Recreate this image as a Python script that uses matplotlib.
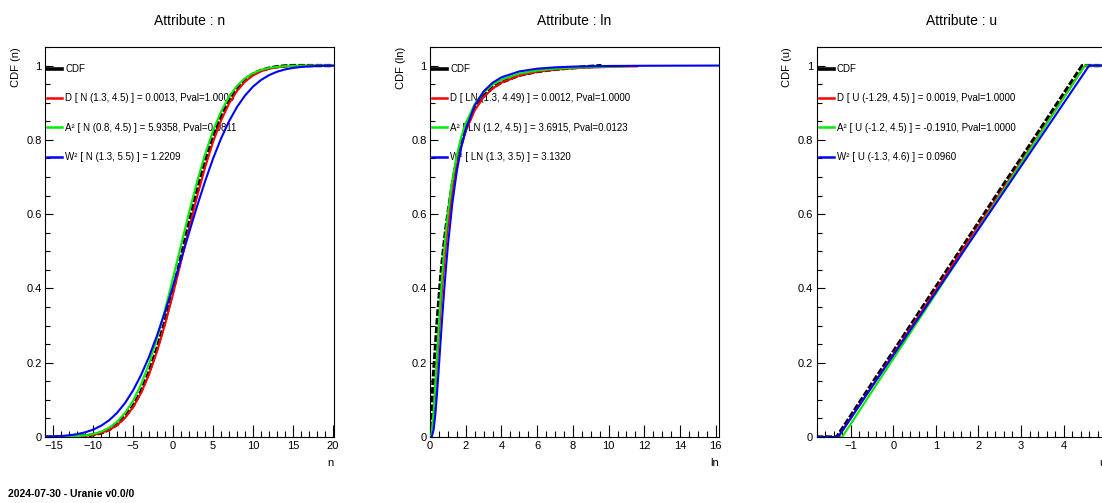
import matplotlib
matplotlib.use("Agg")
import matplotlib.pyplot as plt
from matplotlib.ticker import MultipleLocator

plt.rcParams['font.family'] = ['Liberation Sans', 'DejaVu Sans']

# ---------------- attribute n (normal fits) ----------------
n_x = [-16, -15, -14, -13, -12, -11, -10, -9, -8, -7, -6, -5, -4, -3, -2, -1, 0,
       1, 2, 3, 4, 5, 6, 7, 8, 9, 10, 11, 12, 13, 14, 15, 16, 17, 18, 19, 20]
n_cdf = [0.0, 0.0, 0.0, 0.001, 0.002, 0.003, 0.006, 0.011, 0.020, 0.034, 0.055, 0.084,
         0.124, 0.176, 0.240, 0.313, 0.396, 0.486, 0.577, 0.664, 0.743, 0.811, 0.866,
         0.909, 0.940, 0.962, 0.977, 0.987, 0.993, 0.997, 0.999, 1.0, 1.0, 1.0, 1.0, 1.0, 1.0]
n_d = [0.0001, 0.0001, 0.0003, 0.0007, 0.0015, 0.0032, 0.0060, 0.0110, 0.0193, 0.0326,
       0.0524, 0.0808, 0.1194, 0.1696, 0.2317, 0.3047, 0.3863, 0.4734, 0.5619, 0.6473,
       0.7257, 0.7945, 0.8518, 0.8974, 0.9317, 0.9565, 0.9734, 0.9845, 0.9913, 0.9953,
       0.9976, 0.9988, 0.9995, 0.9998, 0.9999, 1.0, 1.0]
n_a2 = [0.0001, 0.0002, 0.0005, 0.0011, 0.0023, 0.0044, 0.0082, 0.0146, 0.0252, 0.0415,
        0.0655, 0.0985, 0.1430, 0.1993, 0.2669, 0.3446, 0.4295, 0.5177, 0.6052, 0.6876,
        0.7615, 0.8247, 0.8761, 0.9159, 0.9452, 0.9658, 0.9795, 0.9883, 0.9936, 0.9966,
        0.9983, 0.9992, 0.9996, 0.9998, 1.0, 1.0, 1.0]
n_w2 = [0.0008, 0.0015, 0.0027, 0.0047, 0.0078, 0.0127, 0.0199, 0.0305, 0.0454, 0.0656,
        0.0922, 0.1261, 0.1676, 0.2171, 0.2743, 0.3380, 0.4067, 0.4783, 0.5506, 0.6214,
        0.6883, 0.7495, 0.8036, 0.8500, 0.8884, 0.9192, 0.9432, 0.9611, 0.9741, 0.9833,
        0.9895, 0.9936, 0.9962, 0.9978, 0.9988, 0.9994, 0.9997]
n_labels = ["CDF",
            "D [ N (1.3, 4.5) ] = 0.0013, Pval=1.0000",
            "A\u00b2 [ N (0.8, 4.5) ] = 5.9358, Pval=0.0811",
            "W\u00b2 [ N (1.3, 5.5) ] = 1.2209"]

# ---------------- attribute ln (lognormal fits) ----------------
ln_x = [0, 0.05, 0.1, 0.2, 0.3, 0.4, 0.5, 0.6, 0.7, 0.8, 0.9, 1.0, 1.25, 1.5, 1.75,
        2, 2.5, 3, 3.5, 4, 5, 6, 7, 8]
ln_cdf_x = ln_x + [9.6]
ln_cdf = [0.0, 0.03, 0.08, 0.17, 0.24, 0.31, 0.37, 0.43, 0.48, 0.525, 0.565, 0.60,
          0.68, 0.745, 0.79, 0.83, 0.885, 0.918, 0.94, 0.955, 0.974, 0.984, 0.99, 0.994, 1.0]
ln_d_x = ln_x + [10, 11.6]
ln_d = [0.0, 0.0009, 0.0093, 0.0555, 0.1251, 0.2019, 0.2776, 0.3479, 0.412, 0.4699,
        0.5214, 0.5670, 0.6602, 0.7298, 0.783, 0.8233, 0.8794, 0.9150, 0.9383, 0.9542,
        0.9733, 0.9835, 0.9893, 0.9928, 0.9964, 0.998]
ln_a2_x = ln_x + [10, 11.0]
ln_a2 = [0.0, 0.0013, 0.0119, 0.0666, 0.1448, 0.2284, 0.3085, 0.3817, 0.447, 0.5055,
         0.557, 0.6018, 0.6922, 0.7584, 0.808, 0.8452, 0.8962, 0.9279, 0.9483, 0.9620,
         0.9782, 0.9867, 0.9915, 0.9943, 0.9972, 0.998]
ln_w2_x = ln_x + [10, 12, 16.2]
ln_w2 = [0.0, 0.0001, 0.0014, 0.0189, 0.0612, 0.1218, 0.1911, 0.2630, 0.333, 0.3986,
         0.4597, 0.5144, 0.6291, 0.7151, 0.780, 0.8280, 0.8923, 0.9304, 0.9537, 0.9683,
         0.9842, 0.9916, 0.9952, 0.9972, 0.9989, 0.9995, 1.0]
ln_labels = ["CDF",
             "D [ LN (1.3, 4.49) ] = 0.0012, Pval=1.0000",
             "A\u00b2 [ LN (1.2, 4.5) ] = 3.6915, Pval=0.0123",
             "W\u00b2 [ LN (1.3, 3.5) ] = 3.1320"]

# ---------------- attribute u (uniform fits) ----------------
u_cdf_x = [-1.8, -1.33, -1.0, -0.5, 0.0, 0.5, 1.0, 1.5, 2.0, 2.5, 3.0, 3.5, 4.0, 4.44, 5.0]
u_cdf = [0.0, 0.0, 0.057, 0.144, 0.230, 0.317, 0.404, 0.490, 0.577, 0.664, 0.750,
         0.837, 0.924, 1.0, 1.0]
u_d_x = [-1.8, -1.29, 4.5, 5.0]
u_d = [0.0, 0.0, 1.0, 1.0]
u_a2_x = [-1.8, -1.2, 4.5, 5.0]
u_a2 = [0.0, 0.0, 1.0, 1.0]
u_w2_x = [-1.8, -1.3, 4.6, 5.0]
u_w2 = [0.0, 0.0, 1.0, 1.0]
u_labels = ["CDF",
            "D [ U (-1.29, 4.5) ] = 0.0019, Pval=1.0000",
            "A\u00b2 [ U (-1.2, 4.5) ] = -0.1910, Pval=1.0000",
            "W\u00b2 [ U (-1.3, 4.6) ] = 0.0960"]

W, H = 1102, 503
fig = plt.figure(figsize=(W / 100, H / 100), dpi=100)

def panel(left, name, xlim, major, minor, curves, labels):
    ax = fig.add_axes([left / W, 66 / H, 289 / W, 390 / H])
    colors = ['black', '#ff0000', '#00ee00', '#0000ff']
    for k, (xs, ys) in enumerate(curves):
        if k == 0:
            ax.plot(xs, ys, color='black', lw=2.4, dashes=(2.0, 0.6), zorder=3)
        else:
            ax.plot(xs, ys, color=colors[k], lw=1.5, zorder=3 + k)
    ax.set_xlim(*xlim)
    ax.set_ylim(0, 1.05)
    ax.xaxis.set_major_locator(MultipleLocator(major))
    ax.xaxis.set_minor_locator(MultipleLocator(minor))
    ax.yaxis.set_major_locator(MultipleLocator(0.2))
    ax.yaxis.set_minor_locator(MultipleLocator(0.05))
    ax.yaxis.set_major_formatter(matplotlib.ticker.FuncFormatter(lambda v, p: "%g" % round(v, 2)))
    ax.tick_params(direction='in', which='both', labelsize=8, width=0.8)
    ax.tick_params(axis='x', which='major', length=8.5, pad=3)
    ax.tick_params(axis='x', which='minor', length=4.3)
    ax.tick_params(axis='y', which='major', length=6, pad=2.5)
    ax.tick_params(axis='y', which='minor', length=3.6)
    for s in ax.spines.values():
        s.set_linewidth(0.8)
    ax.set_xlabel(name, loc='right', fontsize=8, labelpad=5)
    ax.set_ylabel("CDF (%s)" % name, loc='top', fontsize=8, labelpad=4)
    ax.set_title("Attribute : %s" % name, fontsize=10, pad=16)
    handles = [plt.Line2D([], [], color='black', lw=2.6)] + \
              [plt.Line2D([], [], color=c, lw=1.8) for c in colors[1:]]
    leg = ax.legend(handles, labels, loc='upper left', bbox_to_anchor=(0.008, 0.956),
                    frameon=False, fontsize=7, handlelength=1.5, handletextpad=0.35,
                    labelspacing=1.98, borderpad=0, borderaxespad=0)
    leg.set_zorder(2)
    return ax

panel(45, "n", (-16.05, 20.15), 5, 1,
      [(n_x, n_cdf), (n_x, n_d), (n_x, n_a2), (n_x, n_w2)], n_labels)
panel(430, "ln", (0, 16.18), 2, 0.5,
      [(ln_cdf_x, ln_cdf), (ln_d_x, ln_d), (ln_a2_x, ln_a2), (ln_w2_x, ln_w2)], ln_labels)
panel(816.7, "u", (-1.8, 4.99), 1, 0.2,
      [(u_cdf_x, u_cdf), (u_d_x, u_d), (u_a2_x, u_a2), (u_w2_x, u_w2)], u_labels)

fig.text(8 / W, 1 - 494 / H, "2024-07-30 - Uranie v0.0/0", fontsize=7.5,
         fontweight='bold', va='center', ha='left')

fig.savefig("out.png", dpi=100)
